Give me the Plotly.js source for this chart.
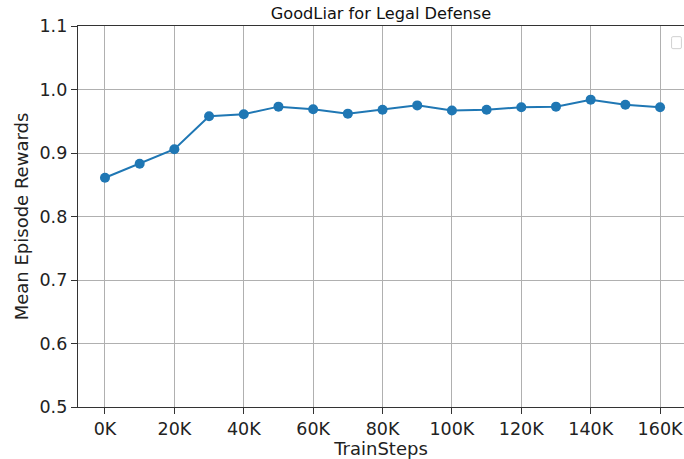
<!DOCTYPE html>
<html>
<head>
<meta charset="utf-8">
<script src="https://cdn.plot.ly/plotly-3.0.1.min.js"></script>
<style>
  html, body { margin: 0; padding: 0; background: #ffffff; }
  #chart { width: 684px; height: 459px; }
</style>
</head>
<body>
<div id="chart"></div>
<script>
// Training steps (in thousands) and mean episode reward at each checkpoint
const trainStepsK = [0, 10, 20, 30, 40, 50, 60, 70, 80, 90, 100, 110, 120, 130, 140, 150, 160];
const meanRewards = [0.861, 0.883, 0.906, 0.958, 0.961, 0.973, 0.969, 0.962, 0.968, 0.975,
                     0.967, 0.968, 0.972, 0.973, 0.984, 0.976, 0.972];

// Axis tick positions and labels
const xTickVals = [0, 20, 40, 60, 80, 100, 120, 140, 160];
const xTickText = ['0K', '20K', '40K', '60K', '80K', '100K', '120K', '140K', '160K'];
const yTickVals = [0.5, 0.6, 0.7, 0.8, 0.9, 1.0, 1.1];
const yTickText = ['0.5', '0.6', '0.7', '0.8', '0.9', '1.0', '1.1'];

const FONT = 'DejaVu Sans, Liberation Sans, sans-serif';

const trace = {
  x: trainStepsK,
  y: meanRewards,
  type: 'scatter',
  mode: 'lines+markers',
  line: { color: '#1f77b4', width: 2 },
  marker: { color: '#1f77b4', size: 10 },
  showlegend: false,
  hoverinfo: 'x+y'
};

const layout = {
  width: 684,
  height: 459,
  margin: { l: 78, r: 0, t: 26, b: 52, pad: 0 },
  paper_bgcolor: '#ffffff',
  plot_bgcolor: '#ffffff',
  font: { family: FONT, color: '#000000' },
  title: {
    text: 'GoodLiar for Legal Defense',
    font: { family: FONT, size: 16.2, color: '#111111' },
    x: 0.5, xref: 'paper', xanchor: 'center',
    y: 1 - 13 / 459, yref: 'container', yanchor: 'middle'
  },
  xaxis: {
    range: [-7.78, 166.9],
    tickmode: 'array',
    tickvals: xTickVals,
    ticktext: xTickText,
    ticks: 'outside',
    ticklen: 6,
    tickwidth: 1,
    tickcolor: '#333333',
    tickfont: { family: FONT, size: 17.5, color: '#222222' },
    showgrid: true,
    gridcolor: '#b0b0b0',
    gridwidth: 1,
    zeroline: false,
    showline: true,
    linecolor: '#333333',
    linewidth: 1.2,
    mirror: true,
    title: {
      text: 'TrainSteps',
      font: { family: FONT, size: 18, color: '#222222' },
      standoff: 4
    }
  },
  yaxis: {
    range: [0.5, 1.1],
    tickmode: 'array',
    tickvals: yTickVals,
    ticktext: yTickText,
    ticks: 'outside',
    ticklen: 6,
    tickwidth: 1,
    tickcolor: '#333333',
    tickfont: { family: FONT, size: 17.5, color: '#222222' },
    showgrid: true,
    gridcolor: '#b0b0b0',
    gridwidth: 1,
    zeroline: false,
    showline: true,
    linecolor: '#333333',
    linewidth: 1.2,
    mirror: false,
    title: {
      text: 'Mean Episode Rewards',
      font: { family: FONT, size: 18, color: '#222222' },
      standoff: 6
    }
  },
  shapes: [
    // empty legend frame in the upper right corner
    {
      type: 'path',
      xref: 'paper', yref: 'paper',
      path: 'M 0.9795 0.945 L 0.9795 0.9675 Q 0.9795 0.972 0.9815 0.972 L 0.9937 0.972 Q 0.9957 0.972 0.9957 0.9675 L 0.9957 0.945 Q 0.9957 0.9405 0.9937 0.9405 L 0.9815 0.9405 Q 0.9795 0.9405 0.9795 0.945 Z',
      line: { color: '#d0d0d0', width: 1 },
      fillcolor: 'rgba(255,255,255,0.8)'
    }
  ]
};

Plotly.newPlot('chart', [trace], layout, { displayModeBar: false, staticPlot: true });
</script>
</body>
</html>
